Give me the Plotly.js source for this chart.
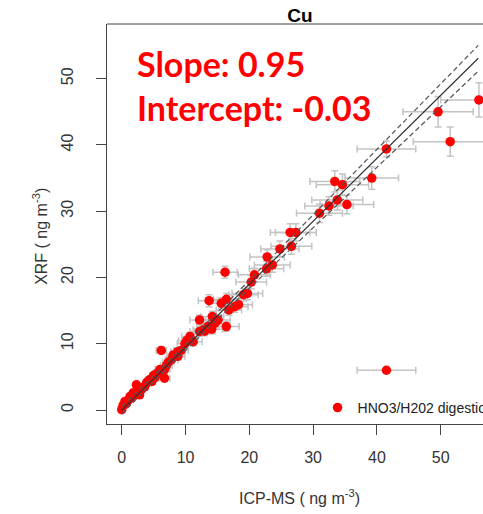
<!DOCTYPE html>
<html>
<head>
<meta charset="utf-8">
<script src="https://cdn.plot.ly/plotly-3.0.1.min.js"></script>
<style>html,body{margin:0;padding:0;background:#fff;}#chart{width:483px;height:514px;}</style>
</head>
<body>
<div id="chart"></div>
<script>
// ICP-MS (x) vs XRF (y), ng m^-3
var icpms = [0.0, 0.2, 0.5, 0.7, 1.0, 1.3, 1.5, 1.8, 2.0, 2.3, 2.5, 2.8, 3.1, 3.3, 3.6, 3.9, 4.1, 4.4, 4.7, 5.0, 5.2, 5.5,
  6.0, 6.2, 6.2, 6.7, 6.7, 7.0, 7.3, 7.8, 8.05, 8.8, 8.8, 9.3, 9.9, 10.2, 10.7, 11.2, 12.2, 13.0, 12.8, 12.2, 13.5, 14.1,
  14.2, 14.6, 15.1, 13.7, 16.4, 15.6, 16.4, 16.2, 16.8, 17.7, 18.3, 19.1, 19.7, 20.3, 20.8, 22.7, 22.8, 23.6, 24.8,
  26.6, 26.4, 27.3, 31.0, 32.5, 33.8, 35.3, 33.4, 34.6, 39.2, 41.5, 49.6, 51.5, 56.0, 41.5];
var xrf = [0.05, 0.65, 1.3, 1.0, 1.5, 2.05, 1.8, 2.6, 2.3, 3.8, 2.8, 2.3, 3.1, 3.4, 3.5, 4.1, 4.3, 4.6, 4.3, 5.2, 4.9, 5.5,
  6.1, 5.6, 9.0, 4.8, 6.1, 6.7, 7.2, 7.6, 8.3, 8.1, 8.8, 9.0, 10.0, 10.5, 11.1, 10.3, 11.85, 11.9, 12.1, 13.6, 12.6, 12.2,
  14.1, 13.1, 13.6, 16.5, 12.6, 16.1, 16.7, 20.8, 15.1, 15.6, 15.9, 17.4, 17.6, 19.3, 20.4, 21.3, 23.1, 21.9, 24.3,
  24.7, 26.8, 26.8, 29.7, 30.8, 31.7, 31.0, 34.5, 34.0, 35.0, 39.4, 45.0, 40.5, 46.8, 6.0];
var icpmsErr = [0.1, 0.1, 0.1, 0.1, 0.15, 0.2, 0.2, 0.2, 0.25, 0.3, 0.3, 0.35, 0.4, 0.4, 0.45, 0.5, 0.5, 0.55, 0.6, 0.6, 0.65, 0.7,
  0.75, 0.8, 0.8, 0.85, 0.85, 0.9, 0.9, 1.0, 1.0, 1.1, 1.1, 1.15, 1.2, 1.3, 1.3, 1.4, 1.5, 1.6, 1.6, 1.5, 1.7, 1.7,
  1.8, 1.8, 1.9, 1.7, 2.0, 1.9, 2.0, 1.9, 2.0, 2.1, 2.2, 2.3, 2.4, 2.4, 2.5, 2.7, 2.7, 2.8, 3.0,
  3.2, 3.1, 3.2, 3.6, 3.8, 4.0, 4.2, 3.9, 4.1, 4.2, 4.6, 5.5, 5.8, 6.0, 4.6];
var xrfErr = [0.1, 0.1, 0.1, 0.1, 0.15, 0.15, 0.15, 0.2, 0.2, 0.25, 0.2, 0.2, 0.25, 0.25, 0.3, 0.3, 0.3, 0.3, 0.3, 0.35, 0.35, 0.35,
  0.4, 0.4, 0.5, 0.35, 0.4, 0.45, 0.45, 0.5, 0.5, 0.5, 0.55, 0.55, 0.6, 0.6, 0.65, 0.6, 0.7, 0.7, 0.7, 0.75, 0.7, 0.7,
  0.8, 0.75, 0.75, 0.9, 0.7, 0.85, 0.9, 0.9, 0.8, 0.85, 0.85, 0.9, 0.95, 1.0, 1.0, 1.1, 1.1, 1.1, 1.2,
  1.2, 1.3, 1.3, 1.4, 1.4, 1.5, 1.4, 1.6, 1.6, 1.7, 1.2, 2.3, 2.2, 2.6, 0.3];

// regression line (slope 0.95, intercept -0.03) and its confidence band
var fitX = [0, 10, 20, 30, 40, 50, 55.9];
var fitY = [-0.03, 9.47, 18.97, 28.47, 37.97, 47.47, 53.08];
var bandUpper = [0.52, 9.92, 19.57, 29.42, 39.27, 49.17, 55.03];
var bandLower = [-0.58, 9.02, 18.37, 27.52, 36.67, 45.77, 51.13];

var xTicks = [0, 10, 20, 30, 40, 50];
var yTicks = [0, 10, 20, 30, 40, 50];

var chartTitle = 'Cu';
var seriesName = 'HNO3/H202 digestion';
var slopeText = 'Slope: 0.95';
var interceptText = 'Intercept: -0.03';
var xTitle = 'ICP-MS ( ng m<sup>-3</sup>)';
var yTitle = 'XRF ( ng m<sup>-3</sup>)';

var traces = [
  {
    x: icpms, y: xrf, type: 'scatter', mode: 'markers', name: seriesName,
    marker: {color: '#ff0000', size: 9.5},
    error_x: {type: 'data', array: icpmsErr, visible: true, color: '#c4c4c4', thickness: 1.5, width: 3.5},
    error_y: {type: 'data', array: xrfErr, visible: true, color: '#c4c4c4', thickness: 1.5, width: 3.5},
    showlegend: true
  },
  {x: fitX, y: fitY, type: 'scatter', mode: 'lines', line: {color: '#333333', width: 1.2}, showlegend: false, hoverinfo: 'skip'},
  {x: fitX, y: bandUpper, type: 'scatter', mode: 'lines', line: {color: '#555555', width: 1.2, dash: '5px,3px'}, showlegend: false, hoverinfo: 'skip'},
  {x: fitX, y: bandLower, type: 'scatter', mode: 'lines', line: {color: '#555555', width: 1.2, dash: '5px,3px'}, showlegend: false, hoverinfo: 'skip'}
];

var layout = {
  width: 483, height: 514,
  margin: {l: 107, r: 0, t: 24, b: 90, autoexpand: false},
  paper_bgcolor: '#ffffff', plot_bgcolor: '#ffffff',
  font: {family: 'Liberation Sans, Arial, sans-serif', color: '#333333'},
  title: {text: chartTitle, font: {family: 'Liberation Sans, Arial, sans-serif', size: 19, color: '#000000', weight: 'bold'},
          x: 0.513, xanchor: 'center', xref: 'paper', y: 0.971, yref: 'container', yanchor: 'middle'},
  xaxis: {
    range: [-2.31, 56.64], tickvals: xTicks, ticktext: xTicks.map(String),
    ticks: 'outside', ticklen: 10, tickcolor: '#444444', tickwidth: 1,
    showline: true, linecolor: '#444444', linewidth: 1, mirror: false,
    showgrid: false, zeroline: false, automargin: false,
    tickfont: {size: 16, color: '#333333'}, ticklabelstandoff: 9
  },
  yaxis: {
    range: [-2.11, 58.25], tickvals: yTicks, ticktext: yTicks.map(String),
    ticks: 'outside', ticklen: 10, tickcolor: '#444444', tickwidth: 1, tickangle: -90,
    showline: true, linecolor: '#444444', linewidth: 1, mirror: false,
    showgrid: false, zeroline: false, automargin: false,
    tickfont: {size: 16, color: '#333333'}, ticklabelstandoff: 17
  },
  shapes: [
    {type: 'line', xref: 'paper', yref: 'paper', x0: 0, x1: 1, y0: 1, y1: 1, line: {color: '#444444', width: 1}}
  ],
  legend: {x: 0.56, xanchor: 'left', y: 0.04, yanchor: 'middle', bgcolor: 'rgba(0,0,0,0)',
           font: {size: 14, color: '#222222'}, itemwidth: 30},
  annotations: [
    {text: slopeText, xref: 'paper', yref: 'paper', x: 0.0745, y: 0.902, xanchor: 'left', yanchor: 'middle', showarrow: false,
     font: {family: 'Lato, sans-serif', size: 34, color: '#ff0000', weight: 'bold'}},
    {text: interceptText, xref: 'paper', yref: 'paper', x: 0.0745, y: 0.792, xanchor: 'left', yanchor: 'middle', showarrow: false,
     font: {family: 'Lato, sans-serif', size: 34, color: '#ff0000', weight: 'bold'}},
    {text: xTitle, xref: 'paper', yref: 'paper', x: 0.513, y: -0.182, xanchor: 'center', yanchor: 'middle', showarrow: false,
     font: {size: 16, color: '#333333'}},
    {text: yTitle, xref: 'paper', yref: 'paper', x: -0.178, y: 0.468, xanchor: 'center', yanchor: 'middle', showarrow: false,
     textangle: -90, font: {size: 16, color: '#333333'}}
  ]
};

Plotly.newPlot('chart', traces, layout, {displayModeBar: false, staticPlot: true});
</script>
</body>
</html>
